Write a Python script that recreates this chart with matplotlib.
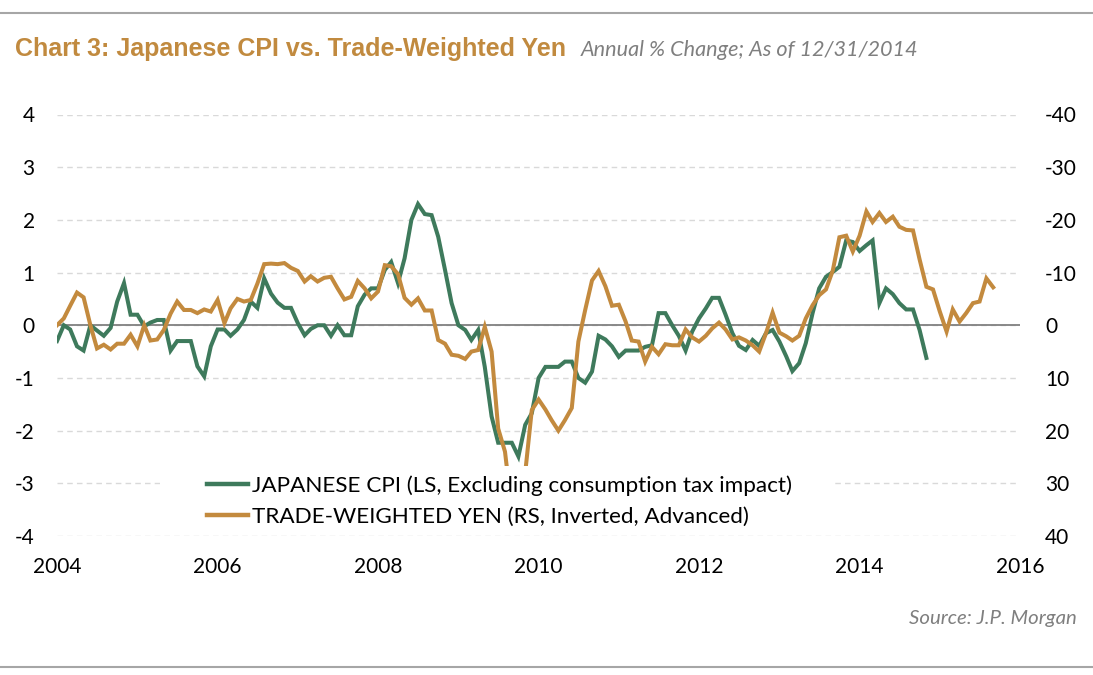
import matplotlib
matplotlib.use('Agg')
import matplotlib.pyplot as plt
import pandas as pd
from matplotlib.lines import Line2D
from matplotlib.patches import Rectangle

plt.rcParams['axes.unicode_minus'] = False

# ---------------- data ----------------
start_month = '2004-01-01'

# Japanese CPI, annual % change (left scale), monthly from Jan 2004
cpi_values = [
    -0.30, 0.00, -0.08, -0.40, -0.48, 0.00, -0.10, -0.20, -0.05, 0.45,
    0.80, 0.20, 0.20, -0.02, 0.05, 0.10, 0.10, -0.48, -0.30, -0.30,
    -0.30, -0.78, -0.97, -0.40, -0.08, -0.08, -0.20, -0.08, 0.10, 0.45,
    0.33, 0.89, 0.60, 0.43, 0.33, 0.33, 0.04, -0.19, -0.07, 0.00,
    0.00, -0.20, 0.00, -0.19, -0.19, 0.36, 0.58, 0.70, 0.70, 1.05,
    1.20, 0.80, 1.27, 2.00, 2.30, 2.11, 2.09, 1.68, 1.05, 0.42,
    0.00, -0.09, -0.28, -0.09, -0.79, -1.73, -2.23, -2.23, -2.23, -2.49,
    -1.89, -1.67, -1.00, -0.79, -0.79, -0.79, -0.69, -0.69, -1.00, -1.09,
    -0.88, -0.20, -0.27, -0.40, -0.60, -0.48, -0.48, -0.48, -0.41, -0.38,
    0.23, 0.23, 0.00, -0.20, -0.48, -0.12, 0.13, 0.32, 0.52, 0.52,
    0.20, -0.15, -0.39, -0.47, -0.28, -0.39, -0.15, -0.09, -0.31, -0.59,
    -0.87, -0.72, -0.34, 0.23, 0.70, 0.92, 1.01, 1.11, 1.61, 1.58,
    1.41, 1.52, 1.61, 0.42, 0.70, 0.59, 0.42, 0.30, 0.30, -0.09,
    -0.62,
]

# Trade-weighted yen, annual % change (right scale, inverted, advanced)
yen_values = [
    0.0, -1.3, -3.7, -6.2, -5.3, 0.0, 4.4, 3.7, 4.6, 3.5,
    3.5, 1.8, 4.0, 0.0, 2.9, 2.7, 0.9, -2.2, -4.5, -2.9,
    -2.9, -2.3, -3.0, -2.6, -4.8, -0.4, -3.2, -5.0, -4.5, -4.8,
    -7.9, -11.6, -11.7, -11.6, -11.8, -10.9, -10.3, -8.3, -9.3, -8.3,
    -9.0, -9.2, -7.0, -4.9, -5.4, -8.4, -7.0, -5.1, -6.4, -11.4,
    -11.2, -9.7, -5.2, -3.9, -5.1, -2.8, -2.8, 2.8, 3.5, 5.6,
    5.8, 6.4, 5.0, 4.7, 0.3, 5.0, 19.6, 24.0, 35.0, 37.0,
    28.0, 16.1, 14.1, 16.0, 18.0, 20.0, 18.0, 15.7, 3.1, -2.9,
    -8.5, -10.3, -7.4, -3.7, -3.9, -0.7, 2.9, 3.1, 6.9, 4.1,
    5.5, 3.6, 3.8, 3.8, 0.8, 2.3, 3.1, 2.0, 0.6, -0.5,
    0.8, 2.7, 2.3, 2.9, 3.8, 5.0, 1.5, -2.4, 1.4, 2.1,
    2.9, 2.0, -1.3, -3.8, -5.7, -6.8, -10.4, -16.7, -17.0, -14.0,
    -17.0, -21.6, -19.6, -21.3, -19.6, -20.6, -18.7, -18.1, -18.0, -12.5,
    -7.3, -6.8, -2.6, 1.2, -3.0, -0.7, -2.3, -4.2, -4.5, -8.9,
    -7.2,
]

left_ticks = [-4, -3, -2, -1, 0, 1, 2, 3, 4]
right_ticks = [-40, -30, -20, -10, 0, 10, 20, 30, 40]
year_ticks = ['2004', '2006', '2008', '2010', '2012', '2014', '2016']

cpi_label = 'JAPANESE CPI (LS, Excluding consumption tax impact)'
yen_label = 'TRADE-WEIGHTED YEN (RS, Inverted, Advanced)'
title = 'Chart 3: Japanese CPI vs. Trade-Weighted Yen'
subtitle = 'Annual % Change; As of 12/31/2014'
source = 'Source: J.P. Morgan'

# ---------------- style ----------------
GREEN = '#3E7A5C'
GOLD = '#C38A3E'
TITLE_GOLD = '#C18A3F'
GRAY = '#7F7F7F'
FONT = ['Lato', 'DejaVu Sans']

W, H = 1093, 675
fig = plt.figure(figsize=(W / 100, H / 100), dpi=100)
fig.patch.set_facecolor('white')

ax_l, ax_r, ax_t, ax_b = 57, 1020, 114.5, 536
ax = fig.add_axes([ax_l / W, 1 - ax_b / H, (ax_r - ax_l) / W, (ax_b - ax_t) / H])
ax2 = ax.twinx()

cpi_dates = pd.date_range(start_month, periods=len(cpi_values), freq='MS')
yen_dates = pd.date_range(start_month, periods=len(yen_values), freq='MS')

ax.plot(cpi_dates, cpi_values, color=GREEN, lw=2.9, solid_joinstyle='miter', zorder=3)
ax2.plot(yen_dates, yen_values, color=GOLD, lw=2.9, solid_joinstyle='miter', zorder=3)

ax.set_ylim(-4, 4)
ax2.set_ylim(40, -40)
ax.set_xlim(pd.Timestamp(year_ticks[0]), pd.Timestamp(year_ticks[-1]))

ax.set_yticks(left_ticks)
ax.set_yticklabels([str(v) for v in left_ticks])
ax2.set_yticks(right_ticks)
ax2.set_yticklabels([str(v) for v in right_ticks])
ax.set_xticks([pd.Timestamp(y) for y in year_ticks])
ax.set_xticklabels(year_ticks)

for a in (ax, ax2):
    for s in a.spines.values():
        s.set_visible(False)
    a.set_facecolor('none')

ax.tick_params(axis='y', length=0, pad=16, labelsize=15, labelcolor='black')
ax2.tick_params(axis='y', length=0, pad=18, labelsize=15, labelcolor='black')
ax.tick_params(axis='x', length=0, pad=15, labelsize=15, labelcolor='black')
for lab in ax.get_yticklabels() + ax2.get_yticklabels() + ax.get_xticklabels():
    lab.set_family(FONT)

ax.set_axisbelow(True)
ax.yaxis.grid(True, linestyle=(0, (4, 3)), color='#D9D9D9', lw=1.0)
ax.xaxis.grid(False)
ax.axhline(0, color='#808080', lw=1.3, zorder=2)

# legend with white box behind
fig.patches.append(Rectangle((160 / W, 1 - 531 / H), (835 - 160) / W, (531 - 466) / H,
                             transform=fig.transFigure, facecolor='white',
                             edgecolor='none', zorder=4))
handles = [Line2D([], [], color=GREEN, lw=3.2), Line2D([], [], color=GOLD, lw=3.2)]
leg = fig.legend(handles, [cpi_label, yen_label], loc='upper left',
                 bbox_to_anchor=(207 / W, 1 - 475 / H), frameon=False,
                 borderpad=0, borderaxespad=0, handlelength=1.8,
                 handletextpad=0.22, labelspacing=0.5,
                 prop={'family': FONT, 'size': 16.2})
leg.set_zorder(6)

# title and notes
fig.text(15 / W, 1 - 56 / H, title, fontsize=18, fontweight='bold', color=TITLE_GOLD,
         family=['Liberation Sans Narrow', 'Liberation Sans', 'DejaVu Sans'], va='baseline')
fig.text(581 / W, 1 - 56 / H, subtitle, fontsize=15.6, style='italic', color=GRAY,
         family=FONT, va='baseline')
fig.text(1077 / W, 1 - 624 / H, source, fontsize=14.7, style='italic', color=GRAY,
         family=FONT, va='baseline', ha='right')

for yy in (13, 667):
    fig.add_artist(Line2D([0, 1], [1 - yy / H] * 2, transform=fig.transFigure,
                          color='#A6A6A6', lw=1.5))

fig.savefig('out.png', dpi=100, facecolor='white')
